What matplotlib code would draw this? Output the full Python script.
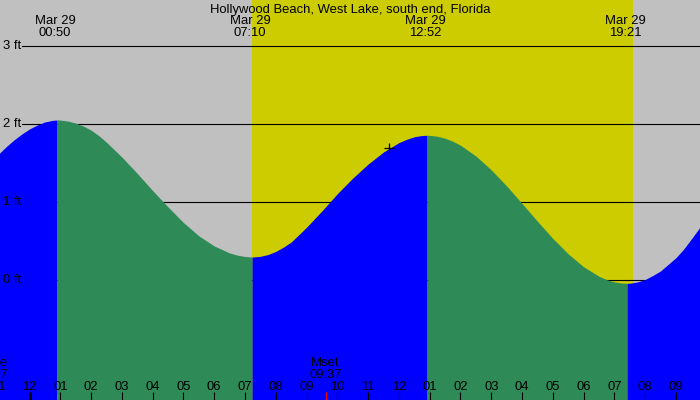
import numpy as np
import matplotlib
matplotlib.use("Agg")
import matplotlib.pyplot as plt

plt.rcParams['font.family'] = ['Liberation Sans', 'DejaVu Sans']

# ---------------- data ----------------
title = "Hollywood Beach, West Lake, south end, Florida"

# tide height curve (hours after midnight Mar 29, feet)
curve_hours = [-1.0, -0.75, -0.5, -0.25, 0.0, 0.25, 0.5, 0.75, 0.893, 1.0, 1.25, 1.5,
               1.75, 2.0, 2.25, 2.5, 3.0, 3.5, 4.0, 4.5, 5.0, 5.5, 6.0, 6.5, 6.75,
               7.0, 7.228, 7.5, 7.75, 8.0, 8.25, 8.5, 9.0, 9.5, 10.0, 10.5, 11.0,
               11.5, 12.0, 12.25, 12.5, 12.75, 12.913, 13.0, 13.25, 13.5, 13.75,
               14.0, 14.5, 15.0, 15.5, 16.0, 16.5, 17.0, 17.5, 18.0, 18.5, 18.75,
               19.0, 19.25, 19.41, 19.5, 19.75, 20.0, 20.25, 20.5, 21.0, 21.25,
               21.5, 21.75, 22.0]
curve_feet = [1.61, 1.705, 1.79, 1.865, 1.93, 1.98, 2.02, 2.04, 2.045, 2.044, 2.031,
              2.005, 1.967, 1.915, 1.845, 1.76, 1.57, 1.36, 1.14, 0.93, 0.73, 0.56,
              0.43, 0.34, 0.312, 0.295, 0.288, 0.297, 0.320, 0.36, 0.415, 0.48, 0.67,
              0.88, 1.10, 1.30, 1.48, 1.635, 1.755, 1.797, 1.83, 1.846, 1.849, 1.848,
              1.836, 1.811, 1.772, 1.721, 1.583, 1.405, 1.199, 0.974, 0.746, 0.526,
              0.328, 0.163, 0.041, -0.002, -0.031, -0.046, -0.049, -0.048, -0.031,
              0.00, 0.052, 0.11, 0.28, 0.39, 0.52, 0.655, 0.80]

extreme_hours = [0.833, 7.167, 12.867, 19.35]
extreme_dates = ["Mar 29", "Mar 29", "Mar 29", "Mar 29"]
extreme_times = ["00:50", "07:10", "12:52", "19:21"]

sunrise_hour = 7.218
sunset_hour = 19.61

hour_ticks = list(range(-1, 22))
hour_labels = ["11", "12", "01", "02", "03", "04", "05", "06", "07", "08", "09", "10",
               "11", "12", "01", "02", "03", "04", "05", "06", "07", "08", "09"]
day_start_hour = 0

moon_names = ["Mrise", "Mset"]
moon_hours = [-1.217, 9.617]
moon_times = ["22:47", "09:37"]

now_hour = 11.68
now_feet = 1.686

levels_ft = [0, 1, 2, 3]
level_labels = ["0 ft", "1 ft", "2 ft", "3 ft"]

# ---------------- style ----------------
GRAY = "#C0C0C0"
YELLOW = "#CCCC00"
BLUE = "#0000FF"
GREEN = "#2E8B57"
FS = 9.4
W, H = 700, 400

fig = plt.figure(figsize=(7, 4), dpi=100, facecolor=GRAY)
ax = fig.add_axes([0, 0, 1, 1])
ax.set_facecolor(GRAY)
for s in ax.spines.values():
    s.set_visible(False)
ax.set_xticks([])
ax.set_yticks([])

px_per_hour = 30.785
x0_px = 29.5
zero_px = 279.5
px_per_ft = 78.0
ax.set_xlim(-x0_px / px_per_hour, (W - x0_px) / px_per_hour)
ybot = (zero_px - H) / px_per_ft
ax.set_ylim(ybot, zero_px / px_per_ft)

def yfrac(px_from_top):
    return 1 - px_from_top / H

# daylight
ax.axvspan(sunrise_hour, sunset_hour, color=YELLOW, lw=0, zorder=0.5)

# level lines (behind fill)
for lv, lab in zip(levels_ft, level_labels):
    ax.axhline(lv, xmin=22 / W, xmax=1, color="black", lw=0.8, zorder=1)
    ax.text(2.7 / W, yfrac(zero_px - lv * px_per_ft + 3.8), lab, transform=ax.transAxes,
            ha="left", va="baseline", fontsize=FS, color="black", zorder=5)

# tide fill: blue when rising, green when falling
x = np.array(curve_hours)
y = np.array(curve_feet)
d = np.sign(np.diff(y))
start = 0
for i in range(1, len(d) + 1):
    if i == len(d) or d[i] != d[start]:
        seg = slice(start, i + 1)
        col = BLUE if d[start] > 0 else GREEN
        ax.fill_between(x[seg], y[seg], ybot - 1, color=col, lw=0, zorder=2)
        start = i

# current-time marker
ax.plot([now_hour], [now_feet], marker="+", ms=7, mew=0.9, color="black", zorder=6)

xt = ax.get_xaxis_transform()

# title
ax.text(0.5, yfrac(12.6), title, transform=ax.transAxes, ha="center", va="baseline",
        fontsize=FS, color="black", zorder=5)

# extreme labels
for hr, dt, tm in zip(extreme_hours, extreme_dates, extreme_times):
    ax.text(hr, yfrac(24.3), dt, transform=xt, ha="center", va="baseline",
            fontsize=FS, color="black", zorder=5)
    ax.text(hr, yfrac(36.0), tm, transform=xt, ha="center", va="baseline",
            fontsize=FS, color="black", zorder=5)

# hour ticks and labels
for hr, lab in zip(hour_ticks, hour_labels):
    thick = (hr == day_start_hour)
    ax.vlines(hr, 0, 8 / H, transform=xt, colors="black",
              lw=2.2 if thick else 0.8, zorder=5)
    ax.text(hr, yfrac(390.0), lab, transform=xt, ha="center", va="baseline",
            fontsize=FS, color="black", zorder=5)

# moon events
for nm, hr, tm in zip(moon_names, moon_hours, moon_times):
    ax.vlines(hr, 0, 8 / H, transform=xt, colors="red", lw=0.8, zorder=5)
    ax.text(hr, yfrac(366.0), nm, transform=xt, ha="center", va="baseline",
            fontsize=FS, color="black", zorder=5)
    ax.text(hr, yfrac(377.7), tm, transform=xt, ha="center", va="baseline",
            fontsize=FS, color="black", zorder=5)

fig.savefig("out.png", dpi=100, facecolor=GRAY)
